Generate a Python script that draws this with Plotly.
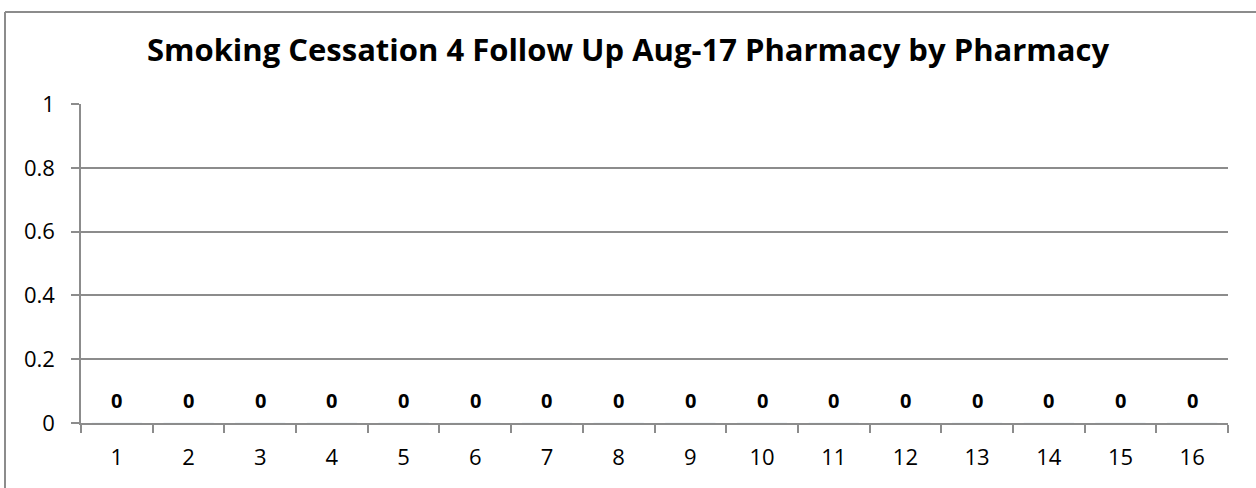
import plotly.graph_objects as go

# Smoking cessation 4 follow up, Aug-17, per pharmacy
pharmacies = [str(i) for i in range(1, 17)]
follow_ups = [0, 0, 0, 0, 0, 0, 0, 0, 0, 0, 0, 0, 0, 0, 0, 0]
y_ticks = [0, 0.2, 0.4, 0.6, 0.8, 1]
y_tick_labels = ["0", "0.2", "0.4", "0.6", "0.8", "1"]

FONT = "Open Sans, Liberation Sans, sans-serif"
GRID = "#8c8c8c"

fig = go.Figure()

fig.add_trace(go.Bar(
    x=pharmacies,
    y=follow_ups,
    marker=dict(color="#4f81bd"),
    hoverinfo="skip",
    showlegend=False,
))

# data labels sit a little above each (zero-height) bar
for i, v in enumerate(follow_ups):
    fig.add_annotation(
        x=i, y=v, text="<b>%d</b>" % v, showarrow=False,
        yshift=23, font=dict(family=FONT, size=20, color="black"),
    )

# outer chart border: only the top and left edges fall inside the picture
fig.add_shape(type="line", xref="paper", yref="paper",
              xsizemode="pixel", xanchor=0, x0=-76, x1=1300,
              ysizemode="pixel", yanchor=1, y0=92, y1=92,
              line=dict(color=GRID, width=2))
fig.add_shape(type="line", xref="paper", yref="paper",
              xsizemode="pixel", xanchor=0, x0=-76, x1=-76,
              ysizemode="pixel", yanchor=1, y0=-500, y1=92,
              line=dict(color=GRID, width=2))

fig.update_layout(
    width=1256,
    height=488,
    margin=dict(l=81, r=28, t=104, b=65),
    paper_bgcolor="white",
    plot_bgcolor="white",
    title=dict(
        text="<b>Smoking Cessation 4 Follow Up Aug-17 Pharmacy by Pharmacy</b>",
        x=0.5, xanchor="center", y=0.898, yanchor="middle",
        font=dict(family=FONT, size=31, color="black"),
    ),
    font=dict(family=FONT, size=22, color="black"),
    bargap=0.3,
)

fig.update_xaxes(
    type="category",
    showline=True, linecolor=GRID, linewidth=1.5,
    ticks="outside", tickson="boundaries", ticklen=8, tickcolor=GRID, tickwidth=1.5,
    showgrid=False,
    ticklabelstandoff=14,
    tickfont=dict(family=FONT, size=22, color="black"),
)

fig.update_yaxes(
    range=[0, 1],
    tickvals=y_ticks,
    ticktext=y_tick_labels,
    showline=True, linecolor=GRID, linewidth=1.5,
    ticks="outside", ticklen=8, tickcolor=GRID, tickwidth=1.5,
    showgrid=True, gridcolor=GRID, gridwidth=1.5,
    zeroline=False,
    ticklabelstandoff=12,
    tickfont=dict(family=FONT, size=22, color="black"),
)

fig.write_html(
    "out.html",
    config={"displayModeBar": False},
    post_script="document.body.style.margin='0';",
)
